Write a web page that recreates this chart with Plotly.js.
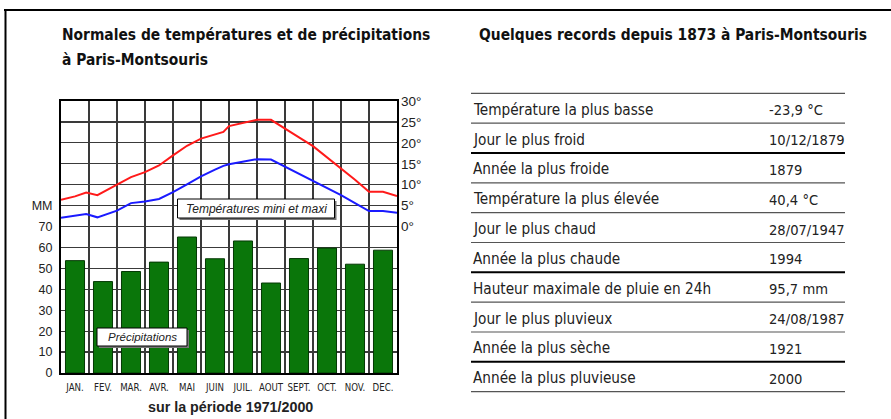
<!DOCTYPE html>
<html>
<head>
<meta charset="utf-8">
<script src="https://cdn.plot.ly/plotly-3.0.1.min.js"></script>
<style>
  html, body { margin: 0; padding: 0; background: #fff; }
  #chart { width: 891px; height: 419px; }
</style>
</head>
<body>
<div id="chart"></div>
<script>
// ---------- DATA ----------
const mois = ["JAN.", "FEV.", "MAR.", "AVR.", "MAI", "JUIN", "JUIL.", "AOUT", "SEPT.", "OCT.", "NOV.", "DEC."];
const precipitations = [53.7, 43.7, 48.5, 53.0, 65.0, 54.6, 63.1, 43.0, 54.7, 59.7, 52.0, 58.7];

// position in the year, in months (0 = 1er janvier, 12 = 31 décembre)
const positionAnnee = [0, 0.5, 0.9, 1.3, 2, 2.5, 3, 3.5, 4, 4.5, 5, 5.5, 5.8, 6, 6.5, 7, 7.5, 8, 8.5, 9, 9.5, 10, 10.5, 11, 11.5, 12];
const tempMaxi = [6.4, 7.2, 8.1, 7.5, 10.0, 11.8, 13.0, 14.6, 17.0, 19.3, 21.0, 22.0, 22.6, 24.0, 24.7, 25.5, 25.5, 23.3, 21.3, 19.2, 16.6, 13.8, 11.2, 8.3, 8.3, 7.3];
const tempMini = [2.1, 2.6, 3.0, 2.2, 3.8, 5.6, 6.0, 6.6, 8.2, 10.1, 12.0, 13.6, 14.5, 14.9, 15.5, 16.1, 16.0, 14.3, 12.6, 11.0, 9.3, 7.5, 5.6, 3.7, 3.7, 3.3];

const mmTicks = [0, 10, 20, 30, 40, 50, 60, 70, 80, 90, 100, 110, 120, 130];
const mmLabels = ["0", "10", "20", "30", "40", "50", "60", "70", "MM", "", "", "", "", ""];
const degTicks = [0, 5, 10, 15, 20, 25, 30];
const degLabels = ["0°", "5°", "10°", "15°", "20°", "25°", "30°"];

const titreGauche1 = "Normales de températures et de précipitations";
const titreGauche2 = "à Paris-Montsouris";
const titreDroite = "Quelques records depuis 1873 à Paris-Montsouris";
const periode = "sur la période 1971/2000";
const etiquetteTemp = "Températures mini et maxi";
const etiquettePrecip = "Précipitations";

const recordLibelles = [
  "Température la plus basse", "Jour le plus froid", "Année la plus froide",
  "Température la plus élevée", "Jour le plus chaud", "Année la plus chaude",
  "Hauteur maximale de pluie en 24h", "Jour le plus pluvieux",
  "Année la plus sèche", "Année la plus pluvieuse"
];
const recordValeurs = [
  "-23,9 °C", "10/12/1879", "1879", "40,4 °C", "28/07/1947", "1994",
  "95,7 mm", "24/08/1987", "1921", "2000"
];

// ---------- LAYOUT HELPERS ----------
const L = 61, R = 397, T = 101, B = 373, W = R - L, H = B - T;
const px = x => (x - L) / W;
const py = y => (B - y) / H;

const NARROW = "'DejaVu Sans Condensed', 'DejaVu Sans', sans-serif";
const ARIAL = "'Liberation Sans', Arial, sans-serif";
const INK = "#222";

const annotations = [];
const shapes = [];

// titles
const titreFont = { family: NARROW, size: 15.4, color: "#111" };
annotations.push({ text: "<b>" + titreGauche1 + "</b>", x: px(60), y: py(35), xref: "paper", yref: "paper", xanchor: "left", yanchor: "middle", showarrow: false, font: titreFont });
annotations.push({ text: "<b>" + titreGauche2 + "</b>", x: px(60), y: py(60), xref: "paper", yref: "paper", xanchor: "left", yanchor: "middle", showarrow: false, font: titreFont });
annotations.push({ text: "<b>" + titreDroite + "</b>", x: px(477), y: py(35), xref: "paper", yref: "paper", xanchor: "left", yanchor: "middle", showarrow: false, font: titreFont });
annotations.push({ text: "<b>" + periode + "</b>", x: px(230), y: py(407), xref: "paper", yref: "paper", xanchor: "center", yanchor: "middle", showarrow: false, font: { family: ARIAL, size: 14.3, color: INK } });

// boxed labels with shadow
function boite(texte, cx, cy, w, h, size) {
  shapes.push({ type: "rect", xref: "paper", yref: "paper", x0: px(cx - w / 2 + 2), x1: px(cx + w / 2 + 2), y0: py(cy + h / 2 + 2), y1: py(cy - h / 2 + 2), fillcolor: "#777", line: { width: 0 }, layer: "above" });
  shapes.push({ type: "rect", xref: "paper", yref: "paper", x0: px(cx - w / 2), x1: px(cx + w / 2), y0: py(cy + h / 2), y1: py(cy - h / 2), fillcolor: "#fff", line: { color: "#000", width: 1 }, layer: "above" });
  annotations.push({ text: "<i>" + texte + "</i>", x: px(cx), y: py(cy), xref: "paper", yref: "paper", xanchor: "center", yanchor: "middle", showarrow: false, font: { family: ARIAL, size: size, color: INK } });
}
boite(etiquetteTemp, 256, 208.5, 157, 19, 12);
boite(etiquettePrecip, 142, 337, 90, 18, 11.5);

// records table
const tx0 = 471, tx1 = 845, ty0 = 93.3, rowH = 29.84;
const lignesEpaisses = [2, 6, 9];
const tableFont = { family: NARROW, size: 15.2, color: INK };
for (let i = 0; i <= recordLibelles.length; i++) {
  const y = ty0 + rowH * i;
  const thick = lignesEpaisses.includes(i);
  shapes.push({ type: "line", xref: "paper", yref: "paper", x0: px(tx0), x1: px(tx1), y0: py(y), y1: py(y), line: { color: thick ? "#000" : "#555", width: thick ? 2 : 1.2 } });
}
recordLibelles.forEach((lab, i) => {
  const y = ty0 + rowH * (i + 0.5) + 1.5;
  annotations.push({ text: lab, x: px(tx0), y: py(y), xref: "paper", yref: "paper", xanchor: "left", yanchor: "middle", showarrow: false, font: tableFont });
  annotations.push({ text: recordValeurs[i], x: px(767), y: py(y), xref: "paper", yref: "paper", xanchor: "left", yanchor: "middle", showarrow: false, font: { family: NARROW, size: 14.6, color: INK } });
});

// page frame
shapes.push({ type: "line", xref: "paper", yref: "paper", x0: px(4), x1: px(891), y0: py(10), y1: py(10), line: { color: "#000", width: 2 } });
shapes.push({ type: "line", xref: "paper", yref: "paper", x0: px(5.5), x1: px(5.5), y0: py(10), y1: py(419), line: { color: "#000", width: 2 } });

// ---------- TRACES ----------
const traces = [
  { type: "bar", x: mois, y: precipitations, xaxis: "x", yaxis: "y", marker: { color: "#0a760a", line: { color: "#043804", width: 1 } }, hoverinfo: "skip" },
  { type: "scatter", mode: "lines", x: positionAnnee, y: tempMaxi, xaxis: "x2", yaxis: "y2", line: { color: "#ff1a1a", width: 2 }, hoverinfo: "skip" },
  { type: "scatter", mode: "lines", x: positionAnnee, y: tempMini, xaxis: "x2", yaxis: "y2", line: { color: "#1a1aff", width: 2 }, hoverinfo: "skip" }
];

const layout = {
  width: 891, height: 419,
  margin: { l: L, r: 891 - R, t: T, b: 419 - B, pad: 0 },
  paper_bgcolor: "#fff", plot_bgcolor: "#fff",
  showlegend: false,
  bargap: 0.32,
  xaxis: {
    type: "category", range: [-0.5, 11.5], showgrid: false, ticks: "", tickangle: 0,
    tickfont: { family: NARROW, size: 9.6, color: INK }, ticklabelstandoff: 4,
    showline: true, mirror: true, linecolor: "#000", linewidth: 2, fixedrange: true
  },
  xaxis2: {
    overlaying: "x", range: [0, 12], dtick: 1, tick0: 0, showgrid: true, gridcolor: "#3a3a3a", gridwidth: 1.2,
    showticklabels: false, ticks: "", zeroline: false, showline: false, side: "top"
  },
  yaxis: {
    range: [0, 130], tickvals: mmTicks, ticktext: mmLabels, showgrid: true, gridcolor: "#3a3a3a", gridwidth: 1.2,
    zeroline: false, ticks: "", tickfont: { family: ARIAL, size: 12.5, color: INK },
    showline: true, mirror: true, linecolor: "#000", linewidth: 2, ticklabelstandoff: 4
  },
  yaxis2: {
    overlaying: "y", side: "right", range: [-35, 30], tickvals: degTicks, ticktext: degLabels,
    showgrid: false, zeroline: false, ticks: "", tickfont: { family: ARIAL, size: 13.5, color: INK }, showline: false,
    ticklabelstandoff: 3
  },
  annotations: annotations,
  shapes: shapes
};

Plotly.newPlot("chart", traces, layout, { staticPlot: true, displayModeBar: false });
</script>
</body>
</html>
